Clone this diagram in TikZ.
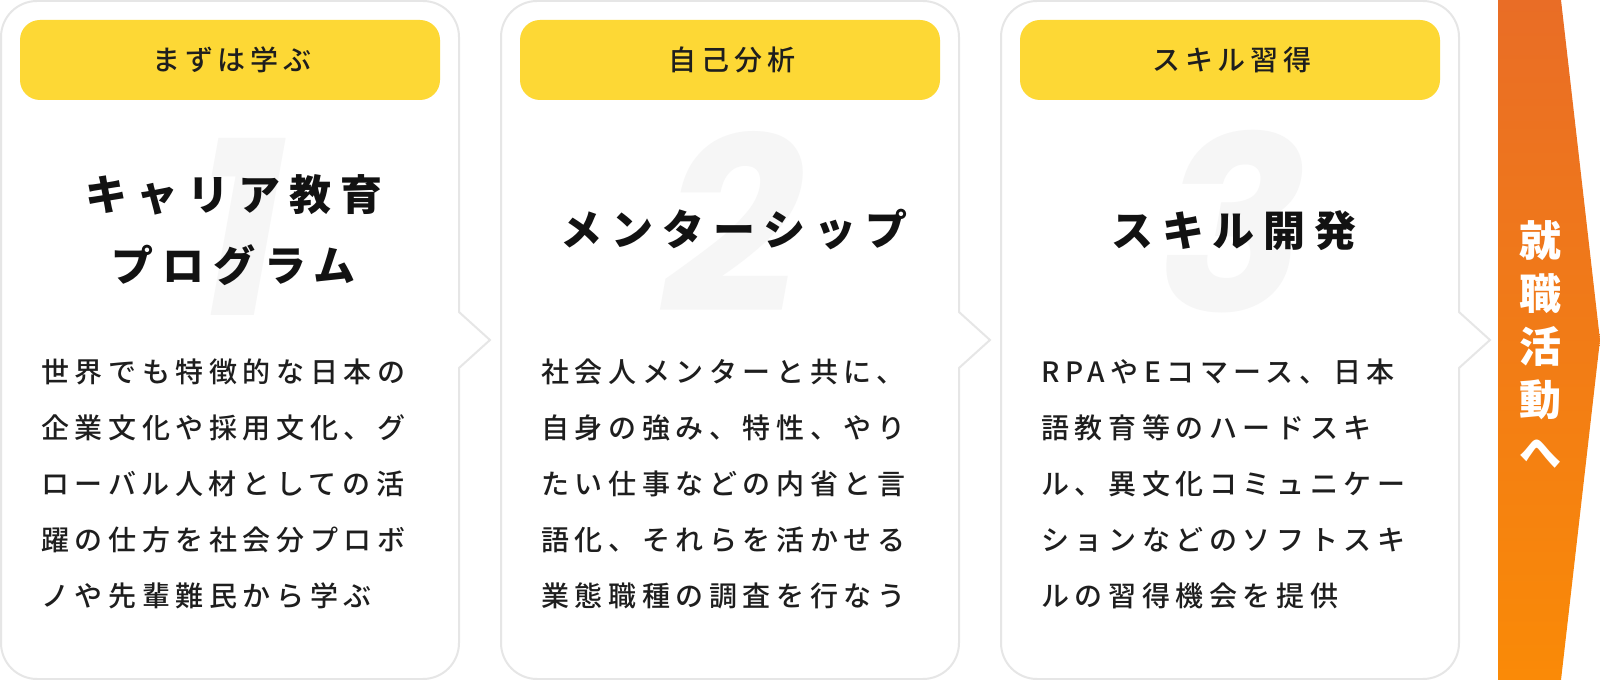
\documentclass[tikz,border=0pt]{standalone}
\usepackage{fontspec}
\newfontfamily\jpfont{Noto Sans CJK JP}
\newfontfamily\jpbody[LetterSpace=20]{Noto Sans CJK JP Medium}
\newfontfamily\jplabel[LetterSpace=17]{Noto Sans CJK JP Medium}
\newfontfamily\jptitle[LetterSpace=21]{Noto Sans CJK JP}
\newfontfamily\numfont[FakeSlant=0.18]{Poppins}
\definecolor{cardline}{HTML}{E6E6E6}
\definecolor{yel}{HTML}{FDD835}
\definecolor{numgray}{HTML}{F6F6F6}
\definecolor{ink}{HTML}{1E1E1E}
\definecolor{orangetop}{HTML}{E96D26}
\definecolor{orangebot}{HTML}{FA8A07}
\begin{document}
\begin{tikzpicture}[x=0.75pt,y=-0.75pt,
  cardshape/.style={draw=cardline, line width=1.5pt, fill=white},
  tagbox/.style={fill=yel, rounded corners=15pt, minimum width=315pt, minimum height=60pt, inner sep=0pt},
  tagtext/.style={font=\jplabel\fontsize{21pt}{24pt}\selectfont, text=ink, anchor=base, inner sep=0pt},
  titletext/.style={font=\jptitle\bfseries\fontsize{31.5pt}{36pt}\selectfont, text=black!93, anchor=base, inner sep=0pt},
  bodytext/.style={font=\jpbody\fontsize{21pt}{24pt}\selectfont, text=ink, anchor=base west, inner sep=0pt},
  bignum/.style={font=\numfont\bfseries\fontsize{182pt}{200pt}\selectfont, text=numgray, inner sep=0pt},
  goaltext/.style={font=\jpfont\bfseries\fontsize{31.5pt}{39.75pt}\selectfont, text=white, align=center, inner sep=0pt}
]
\path[use as bounding box] (0,0) rectangle (1600,680);

% cards
\foreach \L in {0,500,1000}{
  \draw[cardshape] (\L+459,312) -- (\L+490,340) -- (\L+459,368) -- (\L+459,500)
    [rounded corners=27pt] -- (\L+459,679) -- (\L+1,679) -- (\L+1,1) -- (\L+459,1) -- (\L+459,150)
    [sharp corners] -- cycle;
}

% big numbers
\node[bignum] (n1) at (226,227) {1};
\node[bignum] (n2) at (720,222) {2};
\node[bignum] (n3) at (1221,222) {3};

% tags
\node[tagbox] (tag1) at (230,60) {};
\node[tagbox] (tag2) at (730,60) {};
\node[tagbox] (tag3) at (1230,60) {};
\node[tagtext] (tag1t) at (232,71) {まずは学ぶ};
\node[tagtext] (tag2t) at (732,71) {自己分析};
\node[tagtext] (tag3t) at (1232,71) {スキル習得};

% titles
\node[titletext] (t1a) at (234,211) {キャリア教育};
\node[titletext] (t1b) at (234,282) {プログラム};
\node[titletext] (t2) at (734,246) {メンターシップ};
\node[titletext] (t3) at (1234,247) {スキル開発};

% body texts
\node[bodytext] (b1l1) at (41,383) {世界でも特徴的な日本の};
\node[bodytext] (b1l2) at (41,439) {企業文化や採用文化、グ};
\node[bodytext] (b1l3) at (41,495) {ローバル人材としての活};
\node[bodytext] (b1l4) at (41,551) {躍の仕方を社会分プロボ};
\node[bodytext] (b1l5) at (41,607) {ノや先輩難民から学ぶ};

\node[bodytext] (b2l1) at (541,383) {社会人メンターと共に、};
\node[bodytext] (b2l2) at (541,439) {自身の強み、特性、やり};
\node[bodytext] (b2l3) at (541,495) {たい仕事などの内省と言};
\node[bodytext] (b2l4) at (541,551) {語化、それらを活かせる};
\node[bodytext] (b2l5) at (541,607) {業態職種の調査を行なう};

\node[bodytext] (b3l1) at (1041,383) {RPAやEコマース、日本};
\node[bodytext] (b3l2) at (1041,439) {語教育等のハードスキ};
\node[bodytext] (b3l3) at (1041,495) {ル、異文化コミュニケー};
\node[bodytext] (b3l4) at (1041,551) {ションなどのソフトスキ};
\node[bodytext] (b3l5) at (1041,607) {ルの習得機会を提供};

% goal arrow
\shade[top color=orangetop, bottom color=orangebot]
  (1498,0) -- (1561,0) -- (1600,340) -- (1561,680) -- (1498,680) -- cycle;
\node[goaltext] (goal) at (1540,345) {就\\職\\活\\動\\へ};
\end{tikzpicture}
\end{document}
